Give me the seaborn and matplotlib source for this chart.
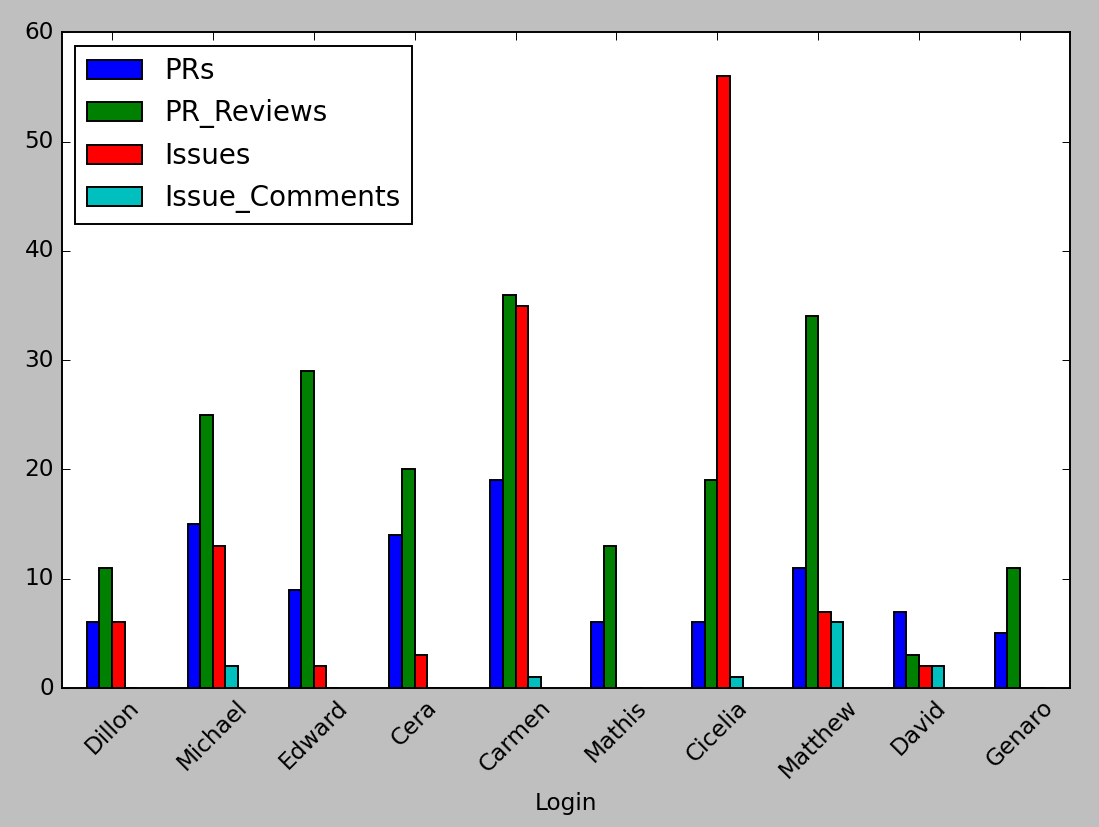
import numpy as np
import pandas as pd
import matplotlib
matplotlib.use('Agg')
import matplotlib.pyplot as plt
import seaborn as sns

logins = ['Dillon', 'Michael', 'Edward', 'Cera', 'Carmen', 'Mathis',
          'Cicelia', 'Matthew', 'David', 'Genaro']
prs = [6, 15, 9, 14, 19, 6, 6, 11, 7, 5]
pr_reviews = [11, 25, 29, 20, 36, 13, 19, 34, 3, 11]
issues = [6, 13, 2, 3, 35, 0, 56, 7, 2, 0]
issue_comments = [0, 2, 0, 0, 1, 0, 1, 6, 2, 0]

df = pd.DataFrame({'Login': logins, 'PRs': prs, 'PR_Reviews': pr_reviews,
                   'Issues': issues, 'Issue_Comments': issue_comments})
long = df.melt(id_vars='Login', var_name='kind', value_name='count')

plt.style.use('classic')
# original looks like classic style rendered at a higher dpi and scaled down
dpi = 139
fig = plt.figure(figsize=(1099 / dpi, 827 / dpi), dpi=dpi)
ax = fig.add_axes([0.056, 0.168, 0.918, 0.793])

sns.barplot(data=long, x='Login', y='count', hue='kind', ax=ax,
            palette=['b', 'g', 'r', 'c'], saturation=1, width=0.5,
            errorbar=None, edgecolor='black', linewidth=1)

ax.set_xlim(-0.5, len(logins) - 0.5)
ax.set_ylim(0, 60)
ax.set_ylabel('')
ax.set_xlabel('Login')
plt.setp(ax.get_xticklabels(), rotation=45)
ax.legend(loc='upper left')

fig.savefig('out.png', dpi=dpi, facecolor=fig.get_facecolor())
